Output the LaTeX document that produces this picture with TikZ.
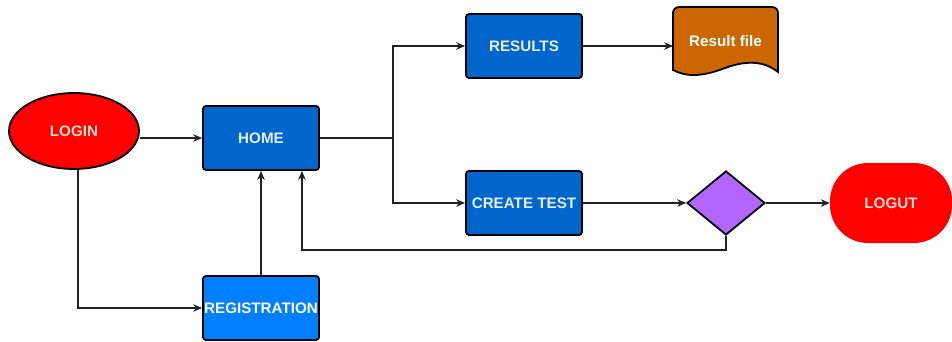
\documentclass[tikz,border=0pt]{standalone}
\usepackage{fontspec}
\setmainfont{Liberation Sans}
\usetikzlibrary{shapes.geometric,arrows.meta}
\definecolor{homeblue}{HTML}{0066CC}
\definecolor{regblue}{HTML}{007FFF}
\definecolor{loginred}{HTML}{FF0000}
\definecolor{decpurple}{HTML}{B266FF}
\definecolor{fileorange}{HTML}{CC6600}
\definecolor{wire}{HTML}{222222}
\definecolor{redtext}{HTML}{FFE0D0}
\definecolor{bluetext}{HTML}{E4EEFF}
\tikzset{
  lbl/.style={font=\fontsize{15.2}{17}\selectfont\bfseries},
  procbox/.style={lbl, draw=black, line width=1.8pt, rounded corners=3pt,
    minimum width=116pt, minimum height=64pt, inner sep=0pt, text=bluetext},
  wireline/.style={draw=wire, line width=1.2pt},
  arr/.style={wireline, -{Stealth[length=9pt,width=7.5pt]}},
}
\begin{document}
\begin{tikzpicture}[x=1pt,y=-1pt]
\useasboundingbox (0,0) rectangle (952,342);

% nodes
\node[ellipse, draw=black, line width=1.8pt, fill=loginred, minimum width=130pt,
  minimum height=76pt, inner sep=0pt, lbl, text=redtext] (login) at (74,131) {LOGIN};
\node[procbox, fill=homeblue] (home) at (261,138) {HOME};
\node[procbox, fill=homeblue] (results) at (524,46) {RESULTS};
\node[procbox, fill=homeblue] (create) at (524,203) {CREATE TEST};
\node[procbox, fill=regblue, text=white] (reg) at (261,308) {REGISTRATION};
\node[diamond, draw=black, line width=1.8pt, fill=decpurple, minimum width=78pt,
  minimum height=64pt, inner sep=0pt, aspect=1.22] (dec) at (726,203) {};
\node[fill=loginred, rounded corners=38pt, minimum width=122pt, minimum height=80pt,
  inner sep=0pt, lbl, text=redtext] (logout) at (891,203) {LOGUT};

% document shape with wavy bottom
\filldraw[fill=fileorange, draw=black, line width=1.8pt]
  (673,70) [rounded corners=6pt] -- (673,7) -- (778,7) [sharp corners] -- (778,72)
  .. controls (768,64) and (752,58) .. (725,68)
  .. controls (702,77) and (686,77) .. (673,70) -- cycle;
\node[lbl, text=white, inner sep=0pt] (rfile) at (725.5,41) {Result file};
\coordinate (rfin) at (673,46);

% connectors
\coordinate (split) at (393,138);
\draw[arr] (login.east |- home.west) -- (home.west);
\draw[wireline] (home.east) -- (split);
\draw[arr] (split) |- (results.west);
\draw[arr] (split) |- (create.west);
\draw[arr] (results.east) -- (rfin);
\draw[arr] (create.east) -- (dec.west);
\draw[arr] (dec.east) -- (logout.west);
\coordinate (loopin) at ([xshift=-18pt]home.south east);
\draw[arr] (dec.south) -- ++(0,14) -| (loopin);
\draw[arr] ([xshift=4pt]login.south) |- (reg.west);
\draw[arr] (reg.north) -- (home.south);
\end{tikzpicture}
\end{document}
